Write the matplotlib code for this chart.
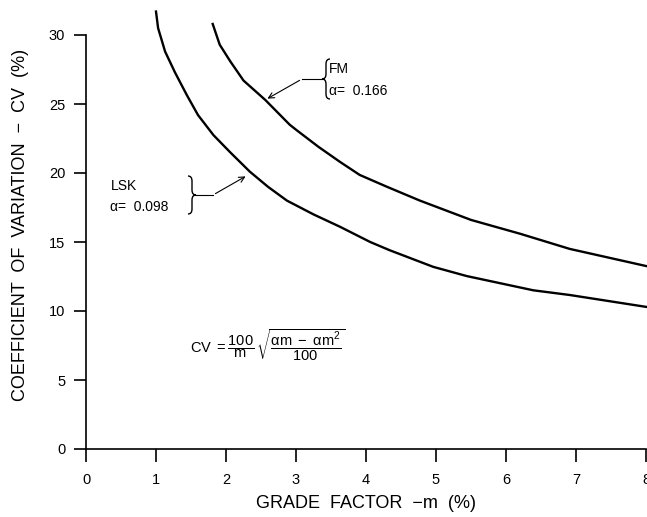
import matplotlib
matplotlib.use("Agg")
import matplotlib.pyplot as plt
from matplotlib.path import Path
from matplotlib.patches import PathPatch

plt.rcParams['font.family'] = ['Liberation Sans', 'DejaVu Sans']
plt.rcParams['mathtext.fontset'] = 'custom'
plt.rcParams['mathtext.rm'] = 'Liberation Sans'
plt.rcParams['mathtext.it'] = 'Liberation Sans'

# Data
m_lsk = [1.0, 1.03, 1.13, 1.27, 1.44, 1.6, 1.82, 2.06, 2.34, 2.6, 2.87, 3.25, 3.63, 4.06, 4.34, 4.96, 5.44, 6.39, 6.91, 8.0]
cv_lsk = [31.7, 30.5, 28.8, 27.3, 25.65, 24.2, 22.75, 21.5, 20.1, 19.0, 18.0, 17.0, 16.1, 15.0, 14.4, 13.2, 12.53, 11.5, 11.16, 10.3]

m_fm = [1.81, 1.91, 2.06, 2.25, 2.56, 2.91, 3.01, 3.32, 3.63, 3.91, 4.3, 4.77, 5.5, 6.2, 6.91, 8.0]
cv_fm = [30.8, 29.3, 28.1, 26.7, 25.3, 23.5, 23.1, 21.9, 20.8, 19.86, 19.0, 18.0, 16.6, 15.6, 14.5, 13.26]

x_ticks = [0, 1, 2, 3, 4, 5, 6, 7, 8]
y_ticks = [0, 5, 10, 15, 20, 25, 30]

fig = plt.figure(figsize=(6.47, 5.17), dpi=100)
ax = fig.add_axes([86/647, 1 - 449/517, 560/647, 449/517])
ax.set_xlim(0, 8)
ax.set_ylim(0, 449/13.8)

ax.plot(m_lsk, cv_lsk, color='black', lw=1.7, clip_on=False, solid_joinstyle='round')
ax.plot(m_fm, cv_fm, color='black', lw=1.7, clip_on=False, solid_joinstyle='round')

for s in ['top', 'right']:
    ax.spines[s].set_visible(False)
ax.spines['left'].set_bounds(0, 30)
ax.spines['bottom'].set_bounds(0, 8)
for s in ['left', 'bottom']:
    ax.spines[s].set_linewidth(1.2)

ax.set_xticks(x_ticks)
ax.set_yticks(y_ticks)
ax.tick_params(direction='out', length=9, width=1.2, labelsize=10.5, pad=8)
ax.tick_params(axis='y', pad=6)

ax.set_xlabel('GRADE  FACTOR  \u2212m  (%)', fontsize=13, labelpad=6)
ax.set_ylabel('COEFFICIENT  OF  VARIATION  \u2212  CV  (%)', fontsize=13, labelpad=14)


def px2d(px, py):
    return ((px - 86) / 70.0, (449 - py) / 13.8)


def brace(xc, ytop, ybot, direction):
    # direction: +1 for '}' (tip to the right), -1 for '{'
    ym = (ytop + ybot) / 2.0
    w = 4 * direction
    pts = [(xc - w, ytop), (xc, ytop), (xc, ytop + 5),
           (xc, ym - 5), (xc, ym), (xc + w, ym),
           (xc, ym), (xc, ym + 5),
           (xc, ybot - 5), (xc, ybot), (xc - w, ybot)]
    codes = [Path.MOVETO, Path.CURVE3, Path.CURVE3,
             Path.LINETO, Path.CURVE3, Path.CURVE3,
             Path.CURVE3, Path.CURVE3,
             Path.LINETO, Path.CURVE3, Path.CURVE3]
    path = Path([px2d(*p) for p in pts], codes)
    ax.add_patch(PathPatch(path, fill=False, lw=1.0, color='black', clip_on=False))


# LSK annotation
ax.text(*px2d(111, 186), 'LSK', fontsize=10, va='center', ha='left')
ax.text(*px2d(110, 207), '\u03b1=  0.098', fontsize=10, va='center', ha='left')
brace(192, 176, 214, +1)
ax.plot(*zip(px2d(196, 195), px2d(213, 195)), color='black', lw=0.8)
ax.annotate('', xy=px2d(248, 175), xytext=px2d(213, 195),
            arrowprops=dict(arrowstyle='->', lw=0.8, color='black'))

# FM annotation
ax.text(*px2d(329, 69), 'FM', fontsize=10, va='center', ha='left')
ax.text(*px2d(329, 91), '\u03b1=  0.166', fontsize=10, va='center', ha='left')
brace(326, 59, 99, -1)
ax.plot(*zip(px2d(302, 79), px2d(322, 79)), color='black', lw=0.8)
ax.annotate('', xy=px2d(265, 100), xytext=px2d(302, 79),
            arrowprops=dict(arrowstyle='->', lw=0.8, color='black'))

# Formula
ax.text(*px2d(190, 345),
        r'CV $= \dfrac{100}{\mathrm{m}}\,\sqrt{\dfrac{\alpha\mathrm{m}\ -\ \alpha\mathrm{m}^2}{100}}$',
        fontsize=10.5, va='center', ha='left')

fig.savefig('out.png', dpi=100)
